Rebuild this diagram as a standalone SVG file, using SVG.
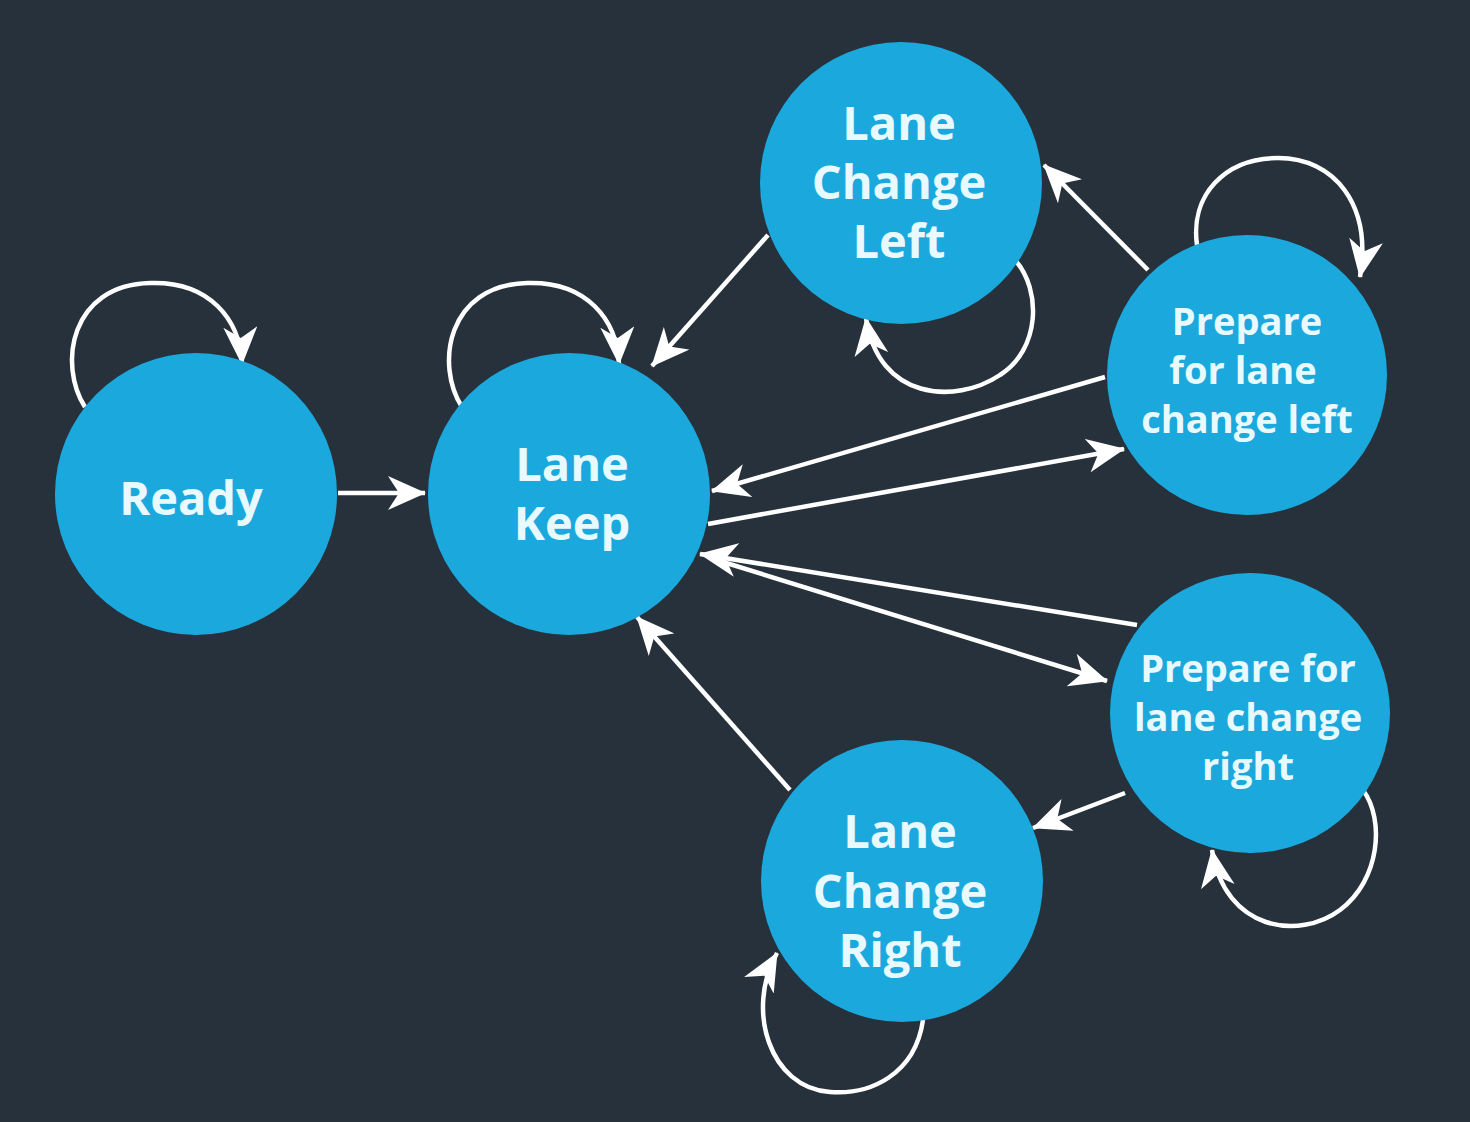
<svg xmlns="http://www.w3.org/2000/svg" width="1470" height="1122" viewBox="0 0 1470 1122">
<defs>
<marker id="ah" markerUnits="userSpaceOnUse" markerWidth="38" markerHeight="34" viewBox="0 0 38 34" refX="37" refY="17" orient="auto">
<path d="M0,0 L38,17 L0,34 L11,17 Z" fill="#ffffff"/>
</marker>
<style>
.node circle{fill:#1ba9dd}
.node text{fill:#e8f9ff;font-family:"Open Sans","Noto Sans","Liberation Sans",sans-serif;font-weight:700;text-anchor:middle}
.big{font-size:47px}
.small{font-size:38px}
.edge{fill:none;stroke:#ffffff;stroke-width:4.5;marker-end:url(#ah)}
</style>
</defs>
<rect width="1470" height="1122" fill="#27313c"/>
<g id="connectors">
<path class="edge" d="M338 493 L425 493"/>
<path class="edge" d="M768 235 L652 366"/>
<path class="edge" d="M1148 270 L1044 165"/>
<path class="edge" d="M1105 377 L712 491"/>
<path class="edge" d="M708 524 L1124 449"/>
<path class="edge" d="M1137 625 L700 554"/>
<path class="edge" d="M720 561 L1107 681"/>
<path class="edge" d="M1125 793 L1033 828"/>
<path class="edge" d="M790 790 L637 617"/>
<path class="edge" d="M85 407 C58 365, 70 285, 150 283 C210 281, 240 320, 242 364"/>
<path class="edge" d="M462 407 C435 365, 447 285, 527 283 C587 281, 617 320, 619 364"/>
<path class="edge" d="M1015 260 C1042 290, 1040 350, 1000 375 C955 405, 878 400, 866 318"/>
<path class="edge" d="M1197 245 C1190 195, 1225 158, 1278 158 C1335 158, 1372 205, 1360 277"/>
<path class="edge" d="M1363 790 C1385 820, 1380 880, 1340 910 C1300 940, 1225 932, 1212 850"/>
<path class="edge" d="M923 1020 C915 1075, 870 1095, 830 1092 C770 1088, 745 1010, 777 953"/>
</g>
<g id="ready" class="node"><circle cx="196" cy="494" r="141"/><text class="big" x="191" y="515">Ready</text></g>
<g id="lane-keep" class="node"><circle cx="569" cy="494" r="141"/><text class="big" x="572" y="481">Lane</text><text class="big" x="572" y="540">Keep</text></g>
<g id="lane-change-left" class="node"><circle cx="901" cy="183" r="141"/><text class="big" x="899" y="140">Lane</text><text class="big" x="899" y="199">Change</text><text class="big" x="899" y="258">Left</text></g>
<g id="prepare-left" class="node"><circle cx="1247" cy="375" r="140"/><text class="small" x="1247" y="335">Prepare</text><text class="small" x="1243" y="384">for lane</text><text class="small" x="1247" y="433">change left</text></g>
<g id="prepare-right" class="node"><circle cx="1250" cy="713" r="140"/><text class="small" x="1248" y="682">Prepare for</text><text class="small" x="1248" y="731">lane change</text><text class="small" x="1248" y="780">right</text></g>
<g id="lane-change-right" class="node"><circle cx="902" cy="881" r="141"/><text class="big" x="900" y="848">Lane</text><text class="big" x="900" y="908">Change</text><text class="big" x="900" y="967">Right</text></g>
</svg>
